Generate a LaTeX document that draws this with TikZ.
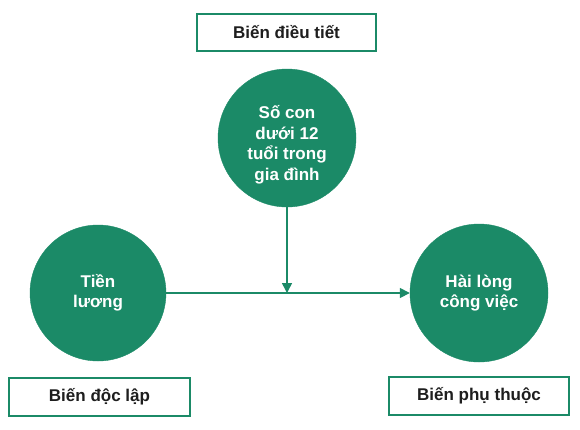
\documentclass[tikz,border=0pt]{standalone}
\usepackage{fontspec}
\setmainfont{Liberation Sans}
\usetikzlibrary{arrows.meta}
\definecolor{grn}{RGB}{27,138,103}
\definecolor{txt}{RGB}{30,30,30}
\tikzset{
  varcircle/.style={circle, fill=grn, draw=grn, text=white, inner sep=0pt,
    minimum size=#1, align=center, font=\fontsize{17}{20.5}\selectfont\bfseries},
  varbox/.style={draw=grn, line width=2pt, fill=white, text=txt, inner sep=0pt,
    font=\fontsize{17}{20}\selectfont\bfseries},
  link/.style={draw=grn, line width=1.5pt, -{Triangle[length=10pt,width=10pt]}}
}
\begin{document}
\begin{tikzpicture}[x=1pt,y=-1pt]
\useasboundingbox (0,0) rectangle (580,429);
\node[varbox, minimum width=179pt, minimum height=37pt] (mod) at (286.5,32.5) {Biến điều tiết};
\node[varbox, minimum width=181pt, minimum height=38pt] (ind) at (99.5,397) {Biến độc lập};
\node[varbox, minimum width=180pt, minimum height=38pt] (dep) at (479,396) {Biến phụ thuộc};
\node[varcircle=138pt, text height=88pt, text depth=4pt] (c) at (287,138) {Số con\\dưới 12\\tuổi trong\\gia đình};
\node[varcircle=136pt] (x) at (98,293) {Tiền\\lương};
\node[varcircle=138pt] (y) at (479,293) {Hài lòng\\công việc};
\draw[link] (x.east) -- (y.west);
\coordinate (m) at (c.south |- x.east);
\draw[link] (c.south) -- (m);
\end{tikzpicture}
\end{document}
